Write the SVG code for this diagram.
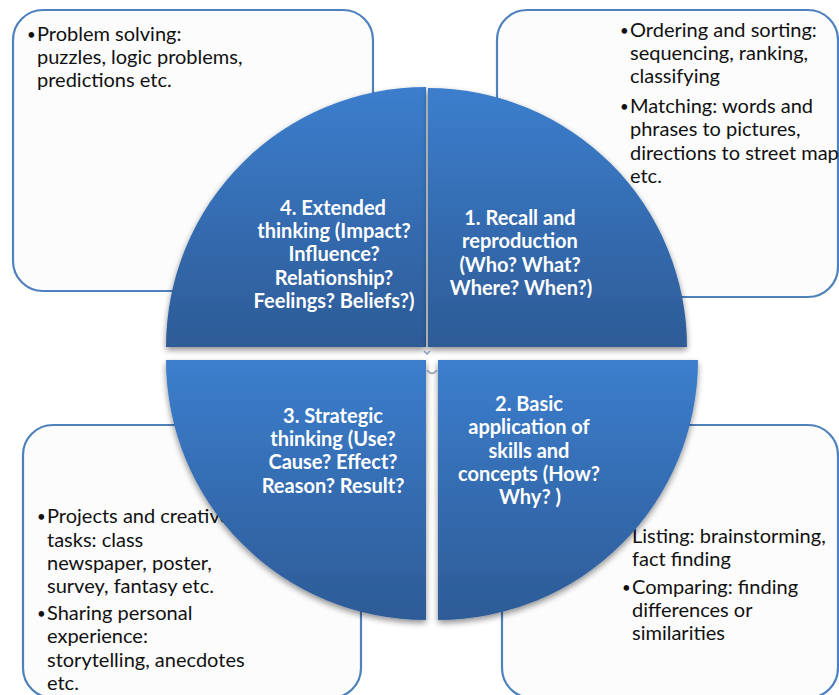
<svg xmlns="http://www.w3.org/2000/svg" width="839" height="695" viewBox="0 0 839 695">
<defs>
<linearGradient id="qg" x1="0" y1="0" x2="0" y2="1">
<stop offset="0" stop-color="#3c7ecd"/>
<stop offset="1" stop-color="#2d5b96"/>
</linearGradient>
<filter id="sh" x="-10%" y="-10%" width="120%" height="125%">
<feGaussianBlur in="SourceAlpha" stdDeviation="3"/>
<feOffset dx="0" dy="3" result="b"/>
<feComponentTransfer><feFuncA type="linear" slope="0.45"/></feComponentTransfer>
<feMerge><feMergeNode/><feMergeNode in="SourceGraphic"/></feMerge>
</filter>
</defs>
<style>
.box{fill:#fcfcfc;stroke:#4f81bd;stroke-width:2.2}
.q{fill:url(#qg);filter:url(#sh)}
.bt{font-family:Lato,"Liberation Sans",sans-serif;font-size:20px;fill:#111}
.bu{font-family:Lato,"Liberation Sans",sans-serif;font-size:15px;fill:#111}
.qt{font-family:Lato,"Liberation Sans",sans-serif;font-size:20px;font-weight:bold;fill:#fff;text-anchor:middle}
.mark{fill:none;stroke:#8d9cb8;stroke-width:1.5}
</style>
<rect width="839" height="695" fill="#ffffff"/>
<g id="box-tl">
<rect class="box" x="13" y="10" width="360" height="281" rx="30"/>
<text class="bu" x="27" y="40">•</text>
<text class="bt" x="37" y="41">Problem solving:</text>
<text class="bt" x="37" y="64">puzzles, logic problems,</text>
<text class="bt" x="37" y="87">predictions etc.</text>
</g>
<g id="box-tr">
<rect class="box" x="497" y="10" width="341" height="287" rx="30"/>
<text class="bu" x="620" y="36">•</text>
<text class="bt" x="630" y="37">Ordering and sorting:</text>
<text class="bt" x="630" y="60">sequencing, ranking,</text>
<text class="bt" x="630" y="83">classifying</text>
<text class="bu" x="620" y="112">•</text>
<text class="bt" x="630" y="113">Matching: words and</text>
<text class="bt" x="630" y="136">phrases to pictures,</text>
<text class="bt" x="630" y="160">directions to street map</text>
<text class="bt" x="630" y="183">etc.</text>
</g>
<g id="box-bl">
<rect class="box" x="23" y="425" width="338" height="273" rx="30"/>
<text class="bu" x="37" y="522">•</text>
<text class="bt" x="47" y="523">Projects and creative</text>
<text class="bt" x="47" y="547">tasks: class</text>
<text class="bt" x="47" y="570">newspaper, poster,</text>
<text class="bt" x="47" y="593">survey, fantasy etc.</text>
<text class="bu" x="37" y="619">•</text>
<text class="bt" x="47" y="620">Sharing personal</text>
<text class="bt" x="47" y="643">experience:</text>
<text class="bt" x="47" y="667">storytelling, anecdotes</text>
<text class="bt" x="47" y="690">etc.</text>
</g>
<g id="box-br">
<rect class="box" x="502" y="425" width="336" height="273" rx="30"/>
<text class="bu" x="618" y="542">•</text>
<text class="bt" x="632" y="543">Listing: brainstorming,</text>
<text class="bt" x="632" y="566">fact finding</text>
<text class="bu" x="622" y="593">•</text>
<text class="bt" x="632" y="594">Comparing: finding</text>
<text class="bt" x="632" y="617">differences or</text>
<text class="bt" x="632" y="640">similarities</text>
</g>
<g id="q4">
<path class="q" d="M426,347 L166,347 A260,260 0 0 1 426,87 Z"/>
<text class="qt" x="333" y="215">4. Extended</text>
<text class="qt" x="334" y="238">thinking (Impact?</text>
<text class="qt" x="334" y="261">Influence?</text>
<text class="qt" x="334" y="285">Relationship?</text>
<text class="qt" x="334" y="308">Feelings? Beliefs?)</text>
</g>
<g id="q1">
<path class="q" d="M428,347 L428,88 A259,259 0 0 1 687,347 Z"/>
<text class="qt" x="520" y="225">1. Recall and</text>
<text class="qt" x="520" y="248">reproduction</text>
<text class="qt" x="520" y="272">(Who? What?</text>
<text class="qt" x="521" y="295">Where? When?)</text>
</g>
<g id="q3">
<path class="q" d="M426,360 L426,620 A260,260 0 0 1 166,360 Z"/>
<text class="qt" x="333" y="423">3. Strategic</text>
<text class="qt" x="333" y="446">thinking (Use?</text>
<text class="qt" x="333" y="469">Cause? Effect?</text>
<text class="qt" x="333" y="493">Reason? Result?</text>
</g>
<g id="q2">
<path class="q" d="M438,360 L698,360 A260,260 0 0 1 438,620 Z"/>
<text class="qt" x="529" y="411">2. Basic</text>
<text class="qt" x="529" y="434">application of</text>
<text class="qt" x="529" y="458">skills and</text>
<text class="qt" x="529" y="481">concepts (How?</text>
<text class="qt" x="530" y="504">Why? )</text>
</g>
<g id="connectors">
<path class="mark" d="M424,351 L427,354 L430,351"/>
<path class="mark" d="M427,370 Q432,377 437,370"/>
</g>
</svg>
